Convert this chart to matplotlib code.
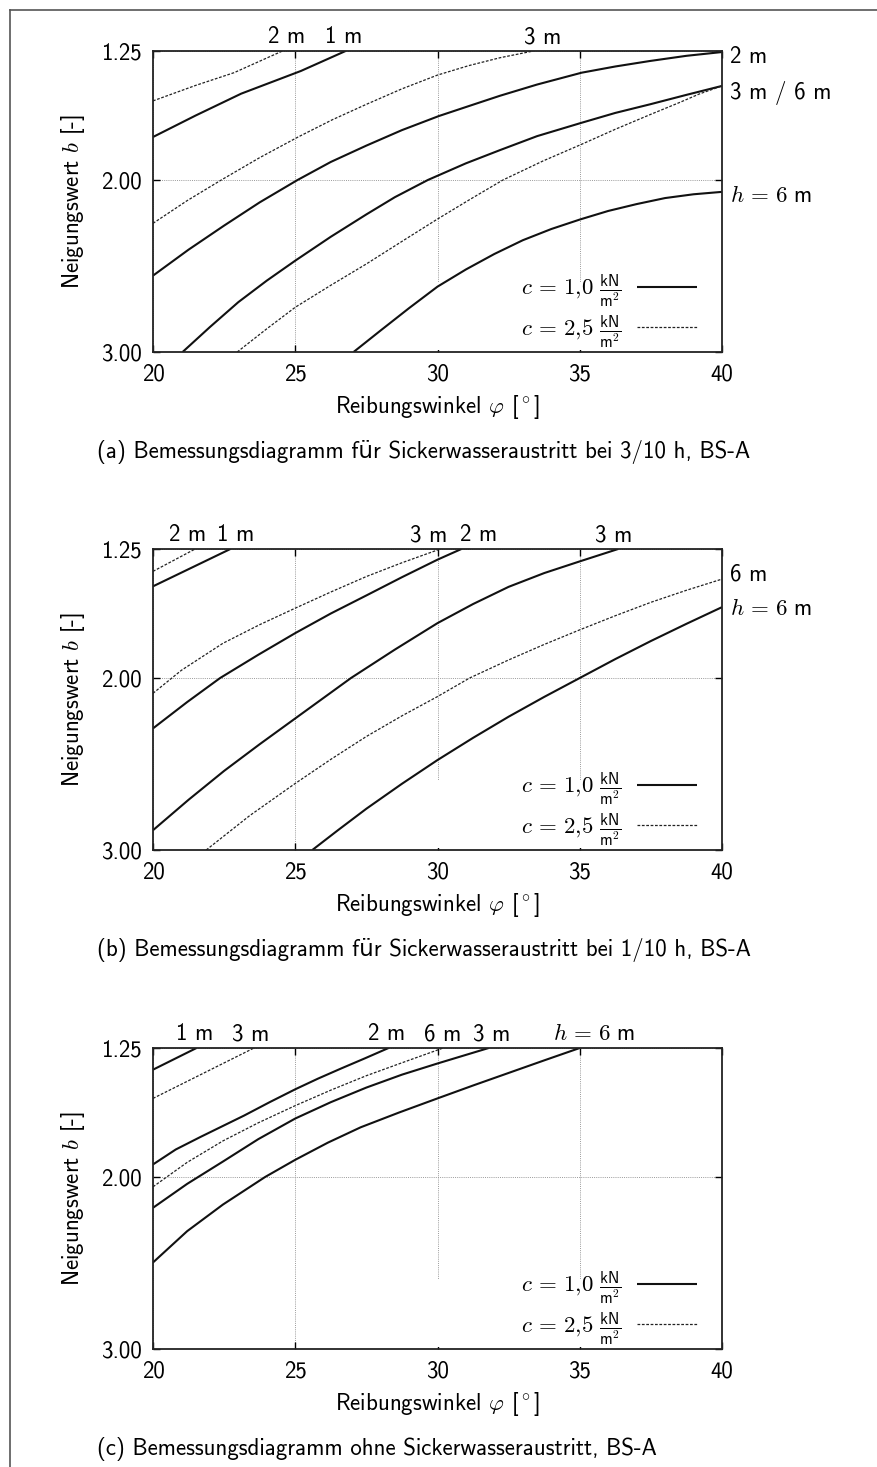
import matplotlib
matplotlib.use('Agg')
import matplotlib.pyplot as plt
from matplotlib.lines import Line2D
from matplotlib.patches import Rectangle

#Schrift wie LaTeX (cmss + cm Mathe)
plt.rcParams['font.family'] = ['cmss10', 'DejaVu Sans']
plt.rcParams['mathtext.fontset'] = 'cm'
plt.rcParams['axes.unicode_minus'] = False
plt.rcParams['font.size'] = 16.5

#Achsen
x_ticks = [20, 25, 30, 35, 40]
y_ticks = [1.25, 2.00, 3.00]
y_ticklabels = ['1.25', '2.00', '3.00']

#(a) Sickerwasseraustritt bei 3/10 h
a_phi_c10_h1 = [20, 21.5, 23.1, 25.2, 26.77]
a_b_c10_h1 = [1.75, 1.625, 1.498, 1.366, 1.25]
a_phi_c25_h2 = [20, 21.5, 22.85, 24.55]
a_b_c25_h2 = [1.54, 1.45, 1.376, 1.25]
a_phi_c25_h3 = [20, 21.2, 22.4, 23.75, 25.1, 26.3, 27.5, 28.75, 30, 31.1, 32.2, 33.37]
a_b_c25_h3 = [2.252, 2.12, 2.0, 1.87, 1.75, 1.65, 1.56, 1.47, 1.39, 1.335, 1.289, 1.25]
a_phi_c10_h2 = [20, 21.25, 22.5, 23.75, 25.08, 26.25, 27.5, 28.75, 30.05, 31.25, 32.2, 33.5,
                35.07, 36.25, 37.47, 38.75, 40]
a_b_c10_h2 = [2.556, 2.405, 2.265, 2.13, 2.0, 1.895, 1.80, 1.71, 1.628, 1.562, 1.51, 1.445,
              1.376, 1.34, 1.308, 1.278, 1.256]
a_phi_c10_h3 = [21.04, 22, 23, 24, 25, 26.25, 27.5, 28.5, 29.66, 31, 32.2, 33.5, 35.07, 36.25,
                37.47, 38.75, 40]
a_b_c10_h3 = [3.0, 2.855, 2.71, 2.585, 2.469, 2.33, 2.2, 2.1, 2.0, 1.903, 1.826, 1.745, 1.667,
              1.61, 1.56, 1.505, 1.453]
a_phi_c25_h6 = [22.96, 24, 25, 26.25, 27.5, 28.75, 30, 31.15, 32.3, 33.7, 35.07, 36.25, 37.47,
                38.5, 39.2, 40]
a_b_c25_h6 = [3.0, 2.865, 2.74, 2.612, 2.488, 2.357, 2.227, 2.112, 2.0, 1.89, 1.792, 1.705, 1.62,
              1.55, 1.50, 1.453]
a_phi_c10_h6 = [27.05, 28, 29, 30, 31, 32, 33, 34, 35, 36, 37, 38, 39, 40]
a_b_c10_h6 = [3.0, 2.875, 2.745, 2.62, 2.52, 2.43, 2.35, 2.285, 2.23, 2.18, 2.14, 2.105, 2.083, 2.069]

a_top_labels = ['2 m', '1 m', '3 m']
a_top_phi = [24.69, 26.71, 33.7]
a_right_labels = ['2 m', '3 m / 6 m', r'$h\,=\,\mathsf{6\ m}$']
a_right_b = [1.283, 1.496, 2.093]

#(b) Sickerwasseraustritt bei 1/10 h
b_phi_c25_h2 = [20, 21.48]
b_b_c25_h2 = [1.38, 1.25]
b_phi_c10_h1 = [20, 22.72]
b_b_c10_h1 = [1.467, 1.25]
b_phi_c25_h3 = [20, 21, 22.46, 23.75, 25, 26.25, 27.5, 28.75, 30.1]
b_b_c25_h3 = [2.089, 1.955, 1.798, 1.69, 1.594, 1.50, 1.41, 1.33, 1.25]
b_phi_c10_h2 = [20, 21.2, 22.36, 23.7, 25, 26.25, 27.5, 28.75, 30, 30.84]
b_b_c10_h2 = [2.293, 2.14, 2.0, 1.865, 1.739, 1.625, 1.52, 1.414, 1.312, 1.25]
b_phi_c10_h3 = [20, 21.25, 22.5, 23.75, 25, 26.96, 28.5, 30, 31.25, 32.5, 33.75, 35, 36.35]
b_b_c10_h3 = [2.885, 2.708, 2.54, 2.385, 2.235, 2.0, 1.835, 1.681, 1.57, 1.47, 1.39, 1.322, 1.25]
b_phi_c25_h6 = [21.87, 23.4, 25, 26.25, 27.5, 28.75, 30, 31.13, 32.5, 33.75, 35, 36.25, 37.5,
                38.75, 40]
b_b_c25_h6 = [3.0, 2.8, 2.613, 2.473, 2.34, 2.22, 2.108, 2.0, 1.895, 1.805, 1.72, 1.638, 1.56,
              1.49, 1.425]
b_phi_c10_h6 = [25.6, 26.5, 27.5, 28.75, 30, 31.25, 32.5, 33.75, 35, 36.25, 37.5, 38.75, 40]
b_b_c10_h6 = [3.0, 2.885, 2.76, 2.615, 2.477, 2.348, 2.225, 2.11, 2.0, 1.89, 1.785, 1.685, 1.588]

b_top_labels = ['2 m', '1 m', '3 m', '2 m', '3 m']
b_top_phi = [21.2, 22.9, 29.68, 31.45, 36.21]
b_right_labels = ['6 m', r'$h\,=\,\mathsf{6\ m}$']
b_right_b = [1.401, 1.601]

#(c) ohne Sickerwasseraustritt
c_phi_c10_h1 = [20, 21.53]
c_b_c10_h1 = [1.376, 1.25]
c_phi_c25_h3 = [20, 23.55]
c_b_c25_h3 = [1.543, 1.25]
c_phi_c10_h2 = [20, 20.8, 21.67, 23.2, 24.1, 25, 25.8, 26.6, 27.45, 28.28]
c_b_c10_h2 = [1.927, 1.84, 1.767, 1.643, 1.565, 1.49, 1.428, 1.37, 1.31, 1.25]
c_phi_c25_h6 = [20, 21.2, 22.46, 23.7, 25, 26.25, 27.5, 28.85, 30.2]
c_b_c25_h6 = [2.057, 1.915, 1.79, 1.685, 1.585, 1.495, 1.411, 1.33, 1.25]
c_phi_c10_h3 = [20, 21.2, 22.46, 23.7, 25, 26.25, 27.5, 28.75, 30, 31, 31.8]
c_b_c10_h3 = [2.179, 2.04, 1.91, 1.78, 1.66, 1.565, 1.48, 1.405, 1.34, 1.29, 1.25]
c_phi_c10_h6 = [20, 21.2, 22.46, 23.94, 25, 26.15, 27.3, 28.65, 30, 31.25, 32.5, 33.75, 35]
c_b_c10_h6 = [2.497, 2.315, 2.16, 2.0, 1.90, 1.80, 1.711, 1.625, 1.543, 1.468, 1.395, 1.322, 1.25]

c_top_labels = ['1 m', '3 m', '2 m', '6 m', '3 m', r'$h\,=\,\mathsf{6\ m}$']
c_top_phi = [21.45, 23.44, 28.2, 30.19, 31.92, 35.5]

captions = ['(a) Bemessungsdiagramm für Sickerwasseraustritt bei 3/10 h, BS-A',
            '(b) Bemessungsdiagramm für Sickerwasseraustritt bei 1/10 h, BS-A',
            '(c) Bemessungsdiagramm ohne Sickerwasseraustritt, BS-A']

leg_labels = [r'$c\,=\,\mathsf{1{,}0}\ \frac{\mathsf{kN}}{\mathsf{m}^2}$',
              r'$c\,=\,\mathsf{2{,}5}\ \frac{\mathsf{kN}}{\mathsf{m}^2}$']

solid = dict(color='#111111', lw=1.5, linestyle='-', solid_capstyle='butt')
dashed = dict(color='#222222', lw=0.9, linestyle=(0, (2.2, 1.3)))

W, H = 878, 1467
fig = plt.figure(figsize=(W/100, H/100), dpi=100)

#Rahmen oben und links
fig.add_artist(Line2D([10/W, 1.0], [1-10/H, 1-10/H], transform=fig.transFigure, color='#555555', lw=1.2))
fig.add_artist(Line2D([10/W, 10/W], [0, 1-10/H], transform=fig.transFigure, color='#555555', lw=1.2))


def panel(top_px, curves, top_labels, top_phi, right_labels, right_b, caption):
    ax = fig.add_axes([153/W, 1-(top_px+301)/H, 569/W, 301/H])
    for phi, b, c in curves:
        ax.plot(phi, b, **(solid if c == 1.0 else dashed), zorder=2)
    ax.set_xlim(20, 40)
    ax.set_ylim(3.0, 1.25)
    ax.set_xticks(x_ticks)
    ax.set_yticks(y_ticks)
    ax.set_yticklabels(y_ticklabels)
    ax.set_axisbelow(True)
    ax.grid(True, color='#9a9a9a', lw=0.7, linestyle=(0, (1, 1.2)))
    ax.tick_params(direction='in', top=True, right=True, length=5, width=1.0, pad=8)
    for s in ax.spines.values():
        s.set_linewidth(1.3)
        s.set_color('#222222')
    #weisser Legendenhintergrund deckt das Gitter
    ax.add_patch(Rectangle((0.472, 0.006), 0.528, 0.228, transform=ax.transAxes,
                           facecolor='white', edgecolor='none', zorder=1))
    for lab, p in zip(top_labels, top_phi):
        ax.annotate(lab, (p, 1.25), xytext=(0, 2), textcoords='offset points',
                    ha='center', va='bottom', annotation_clip=False)
    for lab, b in zip(right_labels, right_b):
        ax.annotate(lab, (40, b), xytext=(6, 0), textcoords='offset points',
                    ha='left', va='center', annotation_clip=False)
    handles = [Line2D([], [], **solid), Line2D([], [], **dashed)]
    ax.legend(handles, leg_labels, loc='lower right', bbox_to_anchor=(0.956, 0.008),
              markerfirst=False, frameon=False, handlelength=2.6, handletextpad=0.7,
              labelspacing=0.15, borderaxespad=0, borderpad=0, fontsize=16.5)
    ax.set_xlabel(r'Reibungswinkel $\varphi$ [$^\circ$]', labelpad=6)
    ax.set_ylabel(r'Neigungswert $b$ [-]', labelpad=10)
    fig.text(97/W, 1-(top_px+401)/H, caption, ha='left', va='center')
    return ax


panel(51,
      [(a_phi_c25_h2, a_b_c25_h2, 2.5), (a_phi_c10_h1, a_b_c10_h1, 1.0),
       (a_phi_c25_h3, a_b_c25_h3, 2.5), (a_phi_c10_h2, a_b_c10_h2, 1.0),
       (a_phi_c10_h3, a_b_c10_h3, 1.0), (a_phi_c25_h6, a_b_c25_h6, 2.5),
       (a_phi_c10_h6, a_b_c10_h6, 1.0)],
      a_top_labels, a_top_phi, a_right_labels, a_right_b, captions[0])

panel(549,
      [(b_phi_c25_h2, b_b_c25_h2, 2.5), (b_phi_c10_h1, b_b_c10_h1, 1.0),
       (b_phi_c25_h3, b_b_c25_h3, 2.5), (b_phi_c10_h2, b_b_c10_h2, 1.0),
       (b_phi_c10_h3, b_b_c10_h3, 1.0), (b_phi_c25_h6, b_b_c25_h6, 2.5),
       (b_phi_c10_h6, b_b_c10_h6, 1.0)],
      b_top_labels, b_top_phi, b_right_labels, b_right_b, captions[1])

panel(1048,
      [(c_phi_c10_h1, c_b_c10_h1, 1.0), (c_phi_c25_h3, c_b_c25_h3, 2.5),
       (c_phi_c10_h2, c_b_c10_h2, 1.0), (c_phi_c25_h6, c_b_c25_h6, 2.5),
       (c_phi_c10_h3, c_b_c10_h3, 1.0), (c_phi_c10_h6, c_b_c10_h6, 1.0)],
      c_top_labels, c_top_phi, [], [], captions[2])

plt.savefig('out.png', dpi=100)
